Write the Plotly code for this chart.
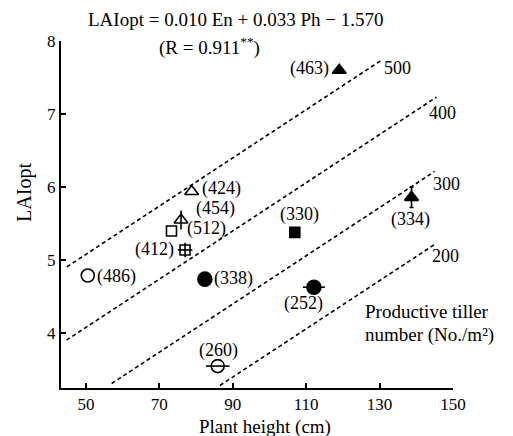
import plotly.graph_objects as go

# ---- data ----
# regression: LAIopt = a*En + b*Ph + c
coef_en = 0.010
coef_ph = 0.033
intercept = -1.570

tiller_levels = [500, 400, 300, 200]
line_x_start = [44.8, 44.7, 57.0, 86.5]
line_x_end = [130.5, 145.5, 145.0, 145.0]

# points: plant height, LAIopt, label (tiller number), marker group
pt_x = [119.0, 78.8, 75.9, 73.3, 77.0, 50.5, 82.4, 106.9, 138.7, 112.1, 85.9]
pt_y = [7.60, 5.94, 5.55, 5.40, 5.14, 4.79, 4.74, 5.38, 5.86, 4.63, 3.55]
pt_label = ["(463)", "(424)", "(454)", "(512)", "(412)", "(486)", "(338)",
            "(330)", "(334)", "(252)", "(260)"]
pt_symbol = ["triangle-up", "triangle-up-open", "triangle-up-open", "square-open",
             "square-open", "circle-open", "circle", "square", "triangle-up",
             "circle", "circle-open"]
pt_err_x = [0, 0, 0, 0, 2.0, 0, 0, 0, 0, 3.0, 3.2]
pt_err_y = [0, 0, 0.13, 0, 0.10, 0, 0, 0, 0.14, 0, 0]
pt_size = [12, 12, 12, 10, 10, 13, 14, 10, 12, 14, 13]

# label positions (data coords)
lab_x = [111.0, 86.8, 85.4, 82.9, 68.8, 58.2, 90.3, 108.3, 138.5, 109.4, 86.2]
lab_y = [7.63, 5.985, 5.71, 5.43, 5.14, 4.78, 4.75, 5.63, 5.56, 4.41, 3.77]

lvl_lab_x = [134.9, 147.2, 148.3, 148.0]
lvl_lab_y = [7.63, 7.01, 6.04, 5.06]

FONT = "Liberation Serif"

fig = go.Figure()

for lvl, x0, x1 in zip(tiller_levels, line_x_start, line_x_end):
    xs = [x0, x1]
    ys = [coef_en * lvl + coef_ph * x + intercept for x in xs]
    fig.add_trace(go.Scatter(x=xs, y=ys, mode="lines",
                             line=dict(color="black", width=1.6, dash="4px,3px"),
                             showlegend=False, hoverinfo="skip"))

for i in range(len(pt_x)):
    tr = dict(x=[pt_x[i]], y=[pt_y[i]], mode="markers",
              marker=dict(symbol=pt_symbol[i], size=pt_size[i], color="black",
                          line=dict(color="black", width=1.6)),
              showlegend=False)
    if pt_err_x[i]:
        tr["error_x"] = dict(type="data", array=[pt_err_x[i]], color="black",
                             thickness=1.6, width=0)
    if pt_err_y[i]:
        tr["error_y"] = dict(type="data", array=[pt_err_y[i]], color="black",
                             thickness=1.6, width=2 if i == 8 else 0)
    fig.add_trace(go.Scatter(**tr))

ann = []
for t, x, y in zip(pt_label, lab_x, lab_y):
    ann.append(dict(x=x, y=y, xref="x", yref="y", text=t, showarrow=False,
                    font=dict(family=FONT, size=18, color="black")))
for t, x, y in zip(tiller_levels, lvl_lab_x, lvl_lab_y):
    ann.append(dict(x=x, y=y, xref="x", yref="y", text=str(t), showarrow=False,
                    font=dict(family=FONT, size=18, color="black")))

paper_texts = [
    ("LAIopt = 0.010 En + 0.033 Ph − 1.570", 0.446, 1.062, "center", 19, 0),
    ("(R = 0.911<sup>**</sup>)", 0.378, 0.985, "center", 19, 0),
    ("Productive tiller", 0.770, 0.2195, "left", 19, 0),
    ("number (No./m²)", 0.770, 0.153, "left", 19, 0),
    ("Plant height (cm)", 0.520, -0.111, "center", 19, 0),
    ("LAIopt", -0.092, 0.565, "center", 20, -90),
]
for t, x, y, xa, s, ang in paper_texts:
    ann.append(dict(x=x, y=y, xref="paper", yref="paper", text=t, showarrow=False,
                    xanchor=xa, yanchor="middle", textangle=ang,
                    font=dict(family=FONT, size=s, color="black")))

fig.update_layout(
    width=513, height=436,
    margin=dict(l=61, r=60, t=41, b=48),
    paper_bgcolor="white", plot_bgcolor="white",
    annotations=ann,
    font=dict(family=FONT, size=17, color="black"),
)
fig.update_xaxes(range=[43.2, 150], tickvals=[50, 70, 90, 110, 130, 150],
                 ticks="inside", ticklen=5, tickwidth=1.5, tickcolor="black",
                 showline=True, linecolor="black", linewidth=2,
                 showgrid=False, zeroline=False,
                 tickfont=dict(family=FONT, size=17))
fig.update_yaxes(range=[3.25, 8], tickvals=[4, 5, 6, 7, 8],
                 ticks="inside", ticklen=5, tickwidth=1.5, tickcolor="black",
                 showline=True, linecolor="black", linewidth=2,
                 showgrid=False, zeroline=False,
                 tickfont=dict(family=FONT, size=17))

fig.write_html("out.html")
